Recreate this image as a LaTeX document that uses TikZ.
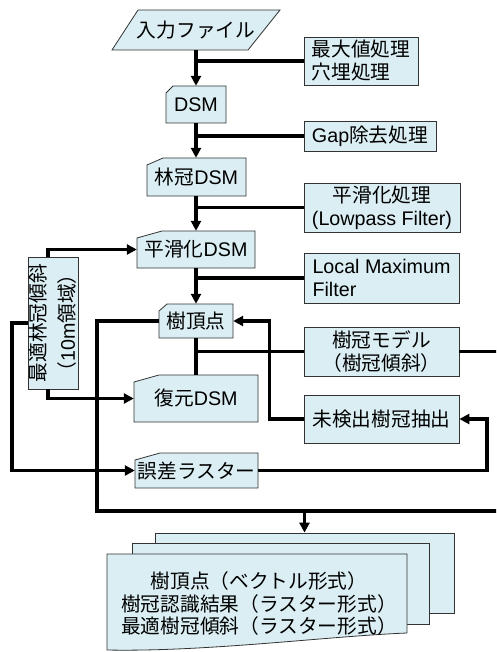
\documentclass[tikz,border=0pt]{standalone}
\usepackage{fontspec}
\setmainfont{Liberation Sans}
\newfontfamily\jp{Noto Sans CJK JP}
\usetikzlibrary{arrows.meta,calc}
\definecolor{boxfill}{HTML}{DAEEF3}
\tikzset{
  boxsty/.style={draw=black!80,line width=0.8pt,fill=boxfill},
  txt/.style={inner sep=0pt,align=center,font=\fontsize{19.7}{23}\selectfont},
  conn/.style={draw=black,line width=3.2pt},
  arr/.style={-{Triangle[length=10pt,width=10pt]}},
}
\newcommand\cutbox[7]{%
  \filldraw[boxsty] (#2,#3+7) -- (#2+#6,#3) -- (#4,#3) -- (#4,#5) -- (#2,#5) -- cycle;
  \node[txt,minimum width={(#4-#2)*1pt},minimum height={(#5-#3)*1pt}] (#1) at ({(#2+#4)/2},{(#3+#5)/2}) {#7};}
\newcommand\rectbox[7]{%
  \node[boxsty,txt,#7,minimum width={(#4-#2)*1pt},minimum height={(#5-#3)*1pt}] (#1) at ({(#2+#4)/2},{(#3+#5)/2}) {#6};}
\begin{document}
\begin{tikzpicture}[x=1pt,y=-1pt]
\useasboundingbox (0,0) rectangle (496,652);
\clip (0,0) rectangle (496,652);
% input parallelogram
\filldraw[boxsty] (138,10) -- (280,10) -- (248,50) -- (112,50) -- cycle;
\node[txt,minimum width=120pt,minimum height=40pt] (inp) at (196,30) {\jp 入力ファイル};
% boxes
\rectbox{b1}{304}{37}{418}{85}{\jp 最大値処理\\\jp 穴埋処理}{align=left}
\cutbox{dsm}{166}{86}{226}{123}{7}{DSM}
\rectbox{gap}{304}{121}{436}{151}{Gap{\jp 除去処理}}{}
\cutbox{rdsm}{147}{158}{246}{196}{16}{{\jp 林冠}DSM}
\rectbox{smo}{304}{183}{460}{232}{{\jp 平滑化処理}\\(Lowpass Filter)}{}
\cutbox{sdsm}{137}{231}{255}{268}{25}{{\jp 平滑化}DSM}
\rectbox{opt}{28}{257}{78}{389}{}{}
\node[txt,rotate=90,font=\fontsize{19.7}{29}\selectfont] (optlabel) at (opt.center) {\jp 最適林冠傾斜\\{\jp （}10m{\jp 領域）}};
\rectbox{lmf}{304}{253}{459}{303}{Local Maximum\\Filter}{align=left}
\cutbox{top}{159}{304}{233}{338}{8}{\jp 樹頂点}
\rectbox{model}{304}{327}{459}{376}{{\jp 樹冠モデル}\\{\jp （樹冠傾斜）}}{}
\cutbox{rest}{134}{375}{258}{422}{25}{{\jp 復元}DSM}
\rectbox{undet}{304}{395}{459}{443}{\jp 未検出樹冠抽出}{}
\cutbox{err}{135}{453}{258}{488}{25}{\jp 誤差ラスター}
% output documents
\node[boxsty,minimum width=299pt,minimum height=80pt,inner sep=0pt] (back) at (304.5,573) {};
\node[boxsty,minimum width=297pt,minimum height=81pt,inner sep=0pt] (mid) at (280.5,583.5) {};
\filldraw[boxsty] (107,554) -- (407,554) -- (407,633) .. controls (330,636) and (207,652) .. (107,650) -- cycle;
\node[txt,font=\fontsize{19.7}{22.5}\selectfont] (outtxt) at (259,604) {\jp 樹頂点（ベクトル形式）\\\jp 樹冠認識結果（ラスター形式）\\\jp 最適樹冠傾斜（ラスター形式）};
% main flow
\draw[conn,arr] (inp.south) -- (inp.south |- dsm.north);
\draw[conn,arr] (dsm.south) -- (dsm.south |- rdsm.north);
\draw[conn,arr] (rdsm.south -| dsm.south) -- (dsm.south |- sdsm.north);
\draw[conn,arr] (sdsm.south -| dsm.south) -- (dsm.south |- top.north);
\draw[conn] (top.south -| dsm.south) -- (dsm.south |- rest.north);
% side inputs
\draw[conn] (b1.west -| dsm.south) -- (b1.west);
\draw[conn] (gap.west -| dsm.south) -- (gap.west);
\draw[conn] (smo.west -| dsm.south) -- (smo.west);
\draw[conn] (lmf.west -| dsm.south) -- (lmf.west);
\draw[conn] (model.west -| dsm.south) -- (model.west);
% optimal slope links
\draw[conn,arr] ([xshift=-5pt]opt.north) |- (sdsm.west);
\draw[conn,arr] ([xshift=-5pt]opt.south) |- (rest.west);
\coordinate (lft) at (12,323);
\draw[conn,arr] (opt.west) -- (lft) |- (err.west);
% feedback loops
\draw[conn,arr] (undet.west) -- ++(-34,0) |- (top.east);
\coordinate (rgt) at (487,419);
\draw[conn,arr] (err.east) -| (rgt) -- (undet.east);
% output bus
\coordinate (bus) at (97,511);
\coordinate (busr) at (506,511);
\draw[conn] (top.west) -| (bus) -- (busr) |- (model.east);
\draw[conn,arr] (bus -| back.north) -- (back.north);
\end{tikzpicture}
\end{document}
